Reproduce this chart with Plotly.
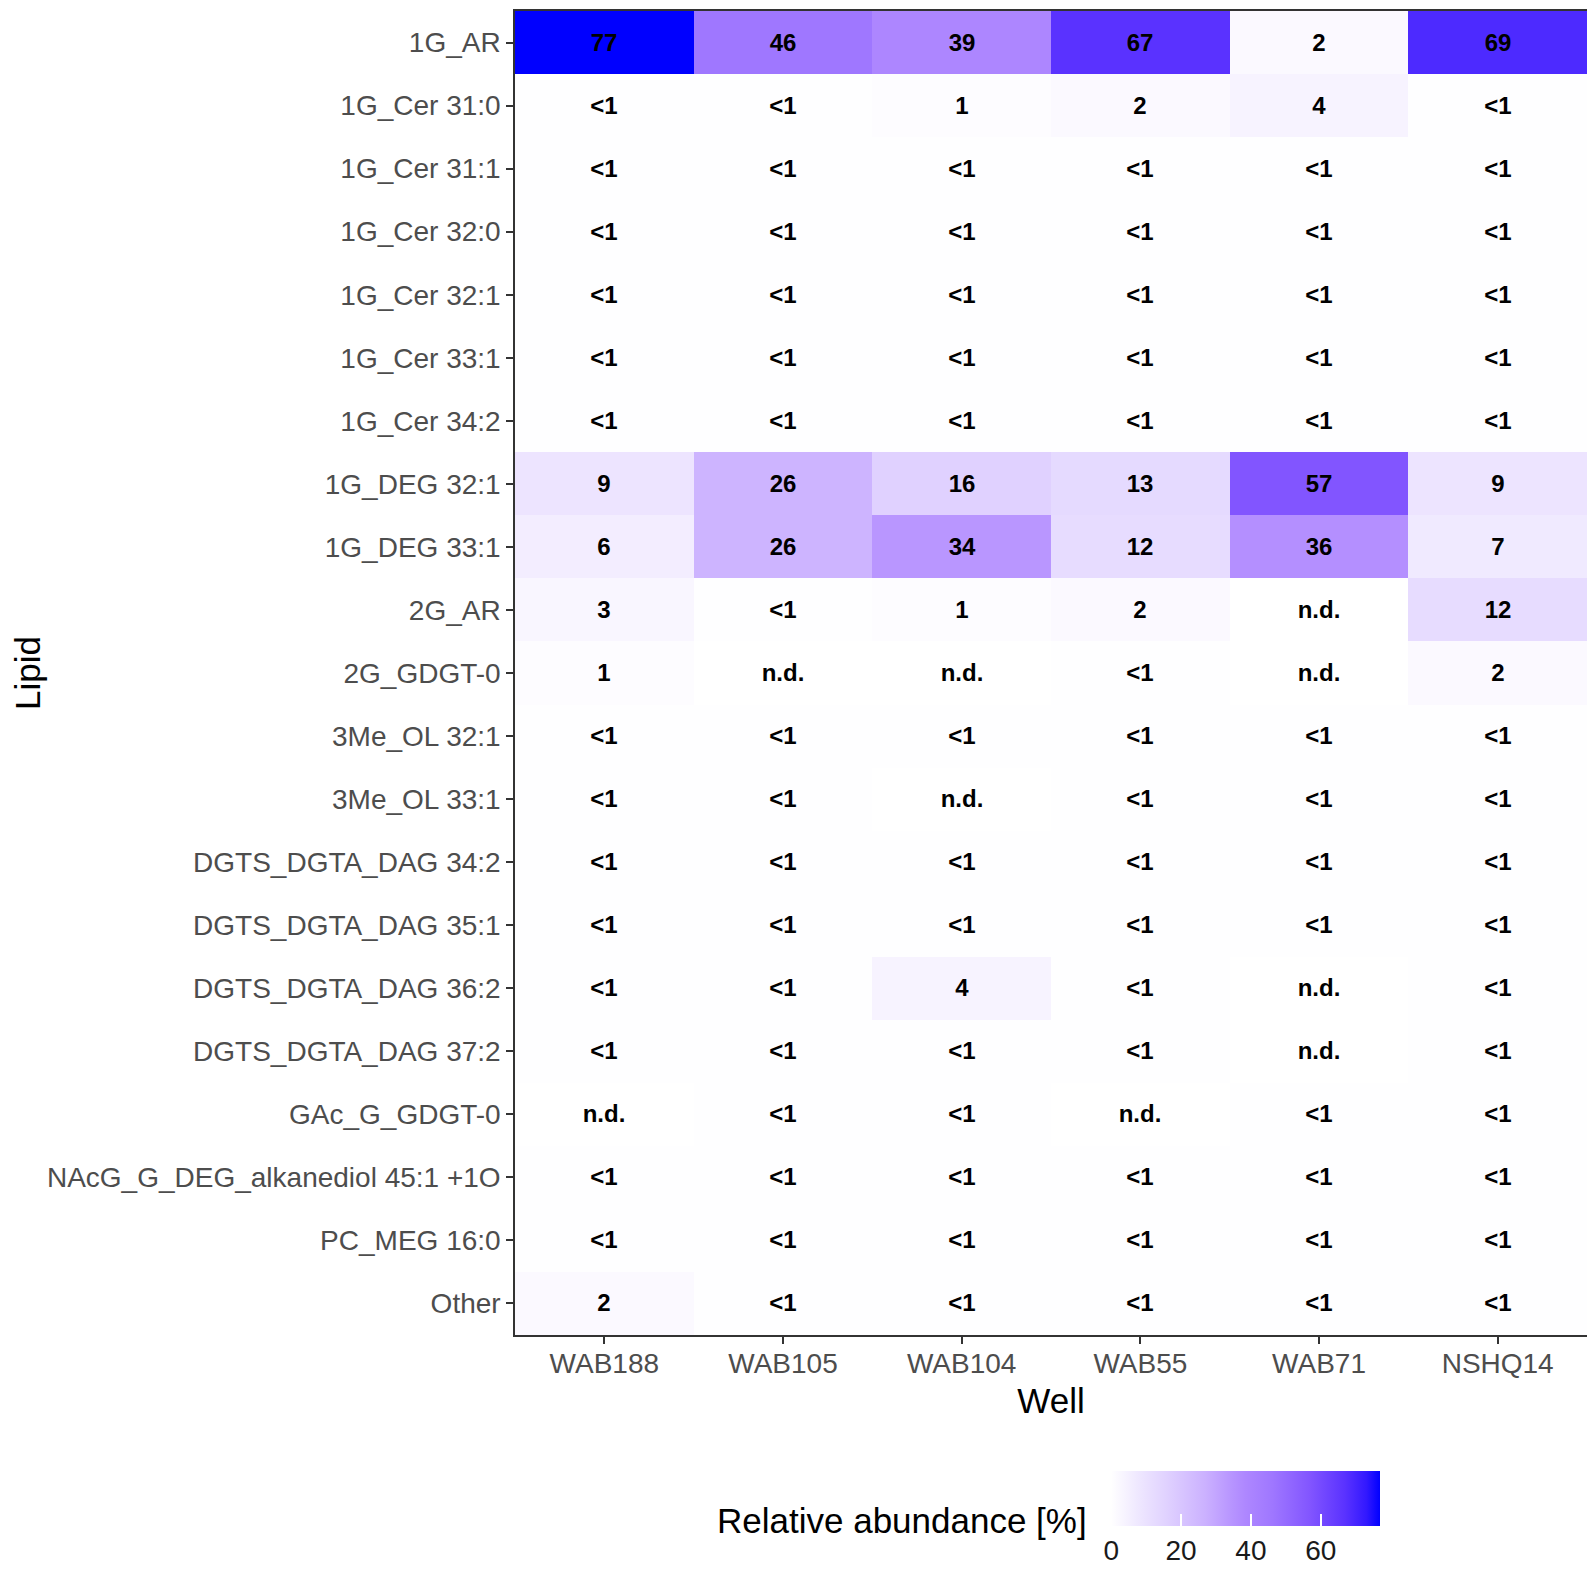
import plotly.graph_objects as go

wells = ["WAB188", "WAB105", "WAB104", "WAB55", "WAB71", "NSHQ14"]
lipids = ["1G_AR", "1G_Cer 31:0", "1G_Cer 31:1", "1G_Cer 32:0", "1G_Cer 32:1",
          "1G_Cer 33:1", "1G_Cer 34:2", "1G_DEG 32:1", "1G_DEG 33:1", "2G_AR",
          "2G_GDGT-0", "3Me_OL 32:1", "3Me_OL 33:1", "DGTS_DGTA_DAG 34:2",
          "DGTS_DGTA_DAG 35:1", "DGTS_DGTA_DAG 36:2", "DGTS_DGTA_DAG 37:2",
          "GAc_G_GDGT-0", "NAcG_G_DEG_alkanediol 45:1 +1O", "PC_MEG 16:0", "Other"]

# relative abundance [%], None = not detected, 0.5 stands for "<1"
abundance = [
    [77, 46, 39, 67, 2, 69],
    [0.5, 0.5, 1, 2, 4, 0.5],
    [0.5, 0.5, 0.5, 0.5, 0.5, 0.5],
    [0.5, 0.5, 0.5, 0.5, 0.5, 0.5],
    [0.5, 0.5, 0.5, 0.5, 0.5, 0.5],
    [0.5, 0.5, 0.5, 0.5, 0.5, 0.5],
    [0.5, 0.5, 0.5, 0.5, 0.5, 0.5],
    [9, 26, 16, 13, 57, 9],
    [6, 26, 34, 12, 36, 7],
    [3, 0.5, 1, 2, None, 12],
    [1, None, None, 0.5, None, 2],
    [0.5, 0.5, 0.5, 0.5, 0.5, 0.5],
    [0.5, 0.5, None, 0.5, 0.5, 0.5],
    [0.5, 0.5, 0.5, 0.5, 0.5, 0.5],
    [0.5, 0.5, 0.5, 0.5, 0.5, 0.5],
    [0.5, 0.5, 4, 0.5, None, 0.5],
    [0.5, 0.5, 0.5, 0.5, None, 0.5],
    [None, 0.5, 0.5, None, 0.5, 0.5],
    [0.5, 0.5, 0.5, 0.5, 0.5, 0.5],
    [0.5, 0.5, 0.5, 0.5, 0.5, 0.5],
    [2, 0.5, 0.5, 0.5, 0.5, 0.5],
]


def label(v):
    if v is None:
        return "n.d."
    if v < 1:
        return "<1"
    return str(round(v))


z = [[0 if v is None else v for v in row] for row in abundance]
text = [[label(v) for v in row] for row in abundance]

scale = [[0, "#FFFFFF"], [0.1, "#EFE8FF"], [0.2, "#E1D3FF"], [0.35, "#CBB1FF"],
         [0.45, "#B794FF"], [0.5, "#AE87FF"], [0.6, "#9F77FF"], [0.74, "#8255FF"],
         [0.87, "#5A32FF"], [0.95, "#3218FF"], [1, "#0000FF"]]

font = "Liberation Sans, Arial, sans-serif"

fig = go.Figure(go.Heatmap(
    z=z, x=wells, y=lipids, text=text, texttemplate="%{text}",
    textfont=dict(family=font, size=24, color="black", weight="bold"),
    colorscale=scale, zmin=0, zmax=77,
    colorbar=dict(orientation="h", x=0.6816, xanchor="center", y=-0.1027, yanchor="top",
                  lenmode="pixels", len=269, thickness=55, xpad=0, ypad=0,
                  outlinewidth=0, ticks="inside", ticklen=12, tickwidth=1.5,
                  tickcolor="white", tickvals=[0, 20, 40, 60],
                  tickfont=dict(family=font, size=28, color="#1A1A1A")),
))

fig.update_xaxes(title=dict(text="Well", font=dict(family=font, size=35, color="black"), standoff=10),
                 tickfont=dict(family=font, size=28, color="#4D4D4D"), ticklabelstandoff=-4,
                 showline=True, mirror=True, linecolor="#333333", linewidth=1.5,
                 ticks="outside", ticklen=7, tickwidth=2, tickcolor="#333333", showgrid=False)
fig.update_yaxes(title=dict(text="Lipid", font=dict(family=font, size=35, color="black"), standoff=0),
                 tickfont=dict(family=font, size=28, color="#4D4D4D"), autorange="reversed",
                 showline=True, mirror=True, linecolor="#333333", linewidth=1.5,
                 ticks="outside", ticklen=7, tickwidth=2, tickcolor="#333333", showgrid=False)

fig.add_annotation(text="Relative abundance [%]", xref="paper", yref="paper",
                   x=0.535, y=-0.140, xanchor="right", yanchor="middle", showarrow=False,
                   font=dict(family=font, size=35, color="black"))

fig.update_layout(width=1595, height=1572, autosize=False,
                  margin=dict(l=507, r=16, t=1, b=244),
                  plot_bgcolor="white", paper_bgcolor="white")

fig.write_html("out.html")
